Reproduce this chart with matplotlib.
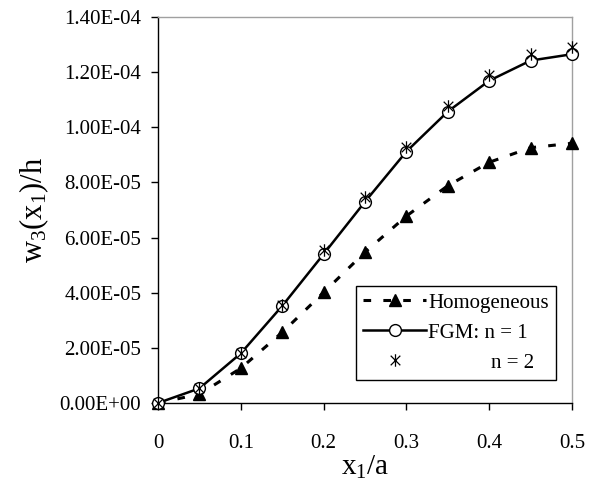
import numpy as np
import matplotlib
matplotlib.use('Agg')
import matplotlib.pyplot as plt
from matplotlib.path import Path

plt.rcParams['font.family'] = 'Liberation Serif'
plt.rcParams['mathtext.fontset'] = 'custom'
plt.rcParams['mathtext.rm'] = 'Liberation Serif'
plt.rcParams['mathtext.it'] = 'Liberation Serif'

# deflexão adimensional ao longo de x1/a
x = [0, 0.05, 0.1, 0.15, 0.2, 0.25, 0.3, 0.35, 0.4, 0.45, 0.5]
homogeneo = [0, 3.2e-6, 1.26e-5, 2.56e-5, 4.01e-5, 5.47e-5, 6.78e-5, 7.88e-5, 8.73e-5, 9.26e-5, 9.42e-5]
fgm_n1 = [0, 5.3e-6, 1.80e-5, 3.52e-5, 5.40e-5, 7.30e-5, 9.12e-5, 1.057e-4, 1.169e-4, 1.242e-4, 1.265e-4]
fgm_n2 = [0, 5.5e-6, 1.82e-5, 3.55e-5, 5.55e-5, 7.48e-5, 9.30e-5, 1.077e-4, 1.19e-4, 1.266e-4, 1.29e-4]

yticks = [0, 2e-5, 4e-5, 6e-5, 8e-5, 1e-4, 1.2e-4, 1.4e-4]
ytick_labels = ['0.00E+00', '2.00E-05', '4.00E-05', '6.00E-05', '8.00E-05',
                '1.00E-04', '1.20E-04', '1.40E-04']
xticks = [0, 0.1, 0.2, 0.3, 0.4, 0.5]
xtick_labels = ['0', '0.1', '0.2', '0.3', '0.4', '0.5']

# marcador estrela (X com traço vertical)
estrela = Path([(-1, -1), (1, 1), (-1, 1), (1, -1), (0, -1.3), (0, 1.3)],
               [Path.MOVETO, Path.LINETO, Path.MOVETO, Path.LINETO, Path.MOVETO, Path.LINETO])

fig = plt.figure(figsize=(5.92, 4.82), dpi=100)
ax = fig.add_axes([158 / 592, 1 - 403 / 482, (572 - 158) / 592, (403 - 17) / 482])

ax.plot(x, homogeneo, color='black', linestyle=(0, (2.5, 4)), linewidth=2.2,
        marker='^', markersize=8, markerfacecolor='black', markeredgecolor='black',
        label='Homogeneous', clip_on=False, zorder=3)
ax.plot(x, fgm_n1, color='black', linestyle='-', linewidth=1.8,
        marker='o', markersize=8.5, markerfacecolor='white', markeredgecolor='black',
        markeredgewidth=1, label='FGM: n = 1', clip_on=False, zorder=4)
ax.plot(x, fgm_n2, color='black', linestyle='none', marker=estrela,
        markersize=9, markeredgewidth=0.9, markerfacecolor='none',
        markeredgecolor='black', label='            n = 2', clip_on=False, zorder=5)

ax.set_xlim(0, 0.5)
ax.set_ylim(0, 1.4e-4)
ax.set_xticks(xticks)
ax.set_xticklabels(xtick_labels)
ax.set_yticks(yticks)
ax.set_yticklabels(ytick_labels)
ax.tick_params(direction='out', length=5, width=1, labelsize=15, colors='black')
ax.tick_params(axis='y', pad=7)
ax.tick_params(axis='x', pad=17)

for lado in ['top', 'right']:
    ax.spines[lado].set_color('#a0a0a0')
    ax.spines[lado].set_linewidth(1)
for lado in ['left', 'bottom']:
    ax.spines[lado].set_color('black')
    ax.spines[lado].set_linewidth(1)

ax.set_xlabel(r'$\mathregular{x_1/a}$', fontsize=21, labelpad=1)
ax.set_ylabel(r'$\mathregular{w_3(x_1)/h}$', fontsize=22, labelpad=6)

leg = ax.legend(loc='lower right', bbox_to_anchor=(0.961, 0.06), borderaxespad=0,
                fontsize=15, frameon=True, fancybox=False, edgecolor='black',
                framealpha=1, handlelength=3.0, handletextpad=0.1, borderpad=0.35,
                labelspacing=0.5)
leg.get_frame().set_linewidth(1)

fig.savefig('out.png', dpi=100)
